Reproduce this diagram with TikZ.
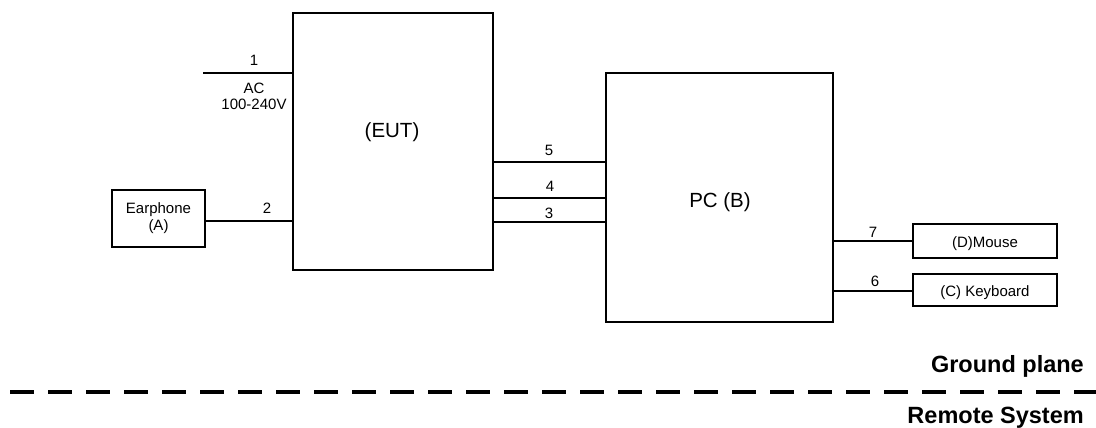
\documentclass[tikz,border=0pt]{standalone}
\usepackage{fontspec}
\setmainfont{Liberation Sans}
\begin{document}
\begin{tikzpicture}[x=1pt,y=-1pt,
  box/.style={draw,line width=1.5pt,inner sep=0pt},
  wire/.style={line width=1.3pt},
  lbl/.style={font=\fontsize{15}{17}\selectfont,inner sep=0pt,anchor=base},
  big/.style={font=\fontsize{20.5}{24}\selectfont,inner sep=0pt,anchor=base},
  bold/.style={font=\fontsize{23.5}{27}\selectfont\bfseries,inner sep=0pt,anchor=base east}]
\useasboundingbox (0,0) rectangle (1096,428);
\node[box,minimum width=200pt,minimum height=257pt] (eut) at (393,141.5) {};
\node[big] (eutl) at (392,137) {(EUT)};
\node[box,minimum width=227pt,minimum height=249pt] (pc) at (719.5,197.5) {};
\node[big] (pcl) at (720,207) {PC (B)};
\node[box,minimum width=93pt,minimum height=57pt,align=center,font=\fontsize{15}{17}\selectfont] (ear) at (158.5,218.5) {Earphone\\(A)};
\node[box,minimum width=144pt,minimum height=34pt,font=\fontsize{15}{17}\selectfont] (mouse) at (985,241) {};
\node[lbl] (mousel) at (985,247) {(D)Mouse};
\node[box,minimum width=144pt,minimum height=32pt,font=\fontsize{15}{17}\selectfont] (kb) at (985,290) {};
\node[lbl] (kbl) at (985,296) {(C) Keyboard};
\coordinate (acend) at (203,73);
\draw[wire] (acend) -- (acend -| eut.west);
\node[lbl] (l1) at (254,66) {1};
\node[lbl] (ac) at (254,93) {AC};
\node[lbl] (acv) at (254,110) {100-240V};
\draw[wire] (ear.east |- 0,221) -- (eut.west |- 0,221);
\node[lbl] (l2) at (267,213) {2};
\draw[wire] (eut.east |- 0,162) -- (pc.west |- 0,162);
\node[lbl] (l5) at (549,155) {5};
\draw[wire] (eut.east |- 0,198) -- (pc.west |- 0,198);
\node[lbl] (l4) at (550,191) {4};
\draw[wire] (eut.east |- 0,222) -- (pc.west |- 0,222);
\node[lbl] (l3) at (549,218) {3};
\draw[wire] (pc.east |- mouse.west) -- (mouse.west);
\node[lbl] (l7) at (873,237) {7};
\draw[wire] (pc.east |- 0,291) -- (kb.west |- 0,291);
\node[lbl] (l6) at (875,286) {6};
\node[bold] (gp) at (1084,372) {Ground plane};
\coordinate (gl) at (10,392);
\coordinate (gr) at (1096,392);
\draw[line width=3.2pt,dash pattern=on 24pt off 14pt] (gl) -- (gr);
\node[bold] (rs) at (1084,423) {Remote System};
\end{tikzpicture}
\end{document}
